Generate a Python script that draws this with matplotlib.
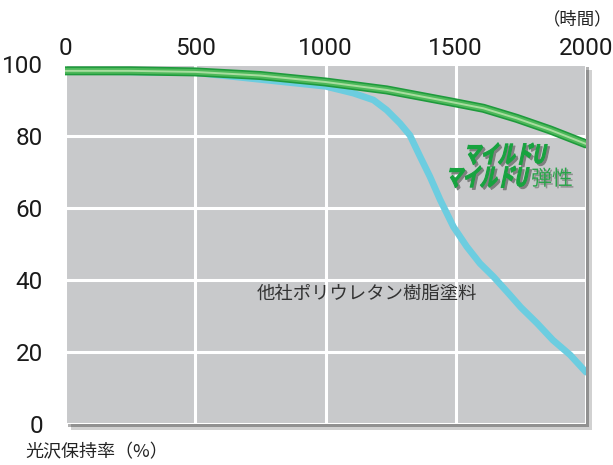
import matplotlib
matplotlib.use('Agg')
import matplotlib.pyplot as plt
import matplotlib.patheffects as pe
from matplotlib.colors import to_rgba
from matplotlib.transforms import Affine2D

plt.rcParams['font.family'] = ['Noto Sans CJK JP', 'DejaVu Sans']

# data
hours_mild = [0, 250, 500, 750, 1000, 1235, 1478, 1606, 1734, 1862, 2000]
gloss_mild = [98.1, 98.1, 97.8, 96.8, 95.0, 92.8, 89.5, 87.7, 84.9, 81.7, 77.8]

hours_other = [0, 500, 1000, 1107, 1184, 1235, 1286, 1324, 1363, 1401, 1440,
               1491, 1542, 1593, 1645, 1700, 1750, 1812, 1873, 1939, 2000]
gloss_other = [98.0, 97.6, 93.8, 91.9, 90.0, 87.2, 83.5, 80.2, 74.3, 68.7, 62.3,
               54.8, 49.3, 44.6, 40.9, 36.5, 32.4, 28.0, 23.3, 19.2, 14.4]

x_ticks = [0, 500, 1000, 1500, 2000]
y_ticks = [0, 20, 40, 60, 80, 100]


class SkewFill(pe.AbstractPathEffect):
    """fill text path sheared (fake italic) and stretched, optional offset/colour/stroke"""
    def __init__(self, skew=12, yscale=1.0, offset=(0, 0), color=None, stroke=0.0):
        super().__init__(offset)
        self.skew = skew
        self.yscale = yscale
        self.color = to_rgba(color) if color is not None else None
        self.stroke = stroke

    def draw_path(self, renderer, gc, tpath, affine, rgbFace=None):
        tr = (Affine2D().scale(1, self.yscale).skew_deg(self.skew, 0)
              + affine + self._offset_transform(renderer))
        face = self.color if self.color is not None else rgbFace
        gc0 = renderer.new_gc()
        gc0.copy_properties(gc)
        if self.stroke > 0:
            gc0.set_linewidth(self.stroke)
            gc0.set_foreground(face)
            gc0.set_joinstyle('round')
        renderer.draw_path(gc0, tpath, tr, face)
        gc0.restore()


fig = plt.figure(figsize=(6.13, 4.65), dpi=100)
ax = fig.add_axes([65 / 613, 1 - 424 / 465, 521 / 613, 360 / 465])

ax.set_facecolor('#c8c9cb')
ax.patch.set_path_effects([
    pe.SimplePatchShadow(offset=(4, -4), shadow_rgbFace='#000000', alpha=0.18),
    pe.SimplePatchShadow(offset=(2.5, -2.5), shadow_rgbFace='#000000', alpha=0.3),
    pe.Normal()])

ax.set_xlim(0, 2000)
ax.set_ylim(0, 100)
ax.set_xticks(x_ticks)
ax.set_yticks(y_ticks)
ax.xaxis.tick_top()
ax.tick_params(length=0, labelsize=17.5, colors='#1a1a1a')
ax.tick_params(axis='x', pad=3)
ax.tick_params(axis='y', pad=16)
for lab in ax.get_xticklabels() + ax.get_yticklabels():
    lab.set_fontfamily(['Roboto', 'DejaVu Sans'])
for s in ax.spines.values():
    s.set_visible(False)
ax.grid(True, color='white', linewidth=2.2)
ax.set_axisbelow(True)

# other polyurethane paint
ax.plot(hours_other, gloss_other, color='#6ccde0', linewidth=4.8,
        solid_capstyle='round', solid_joinstyle='round', zorder=3)

# mild-U: layered green to give a tube look
ax.plot(hours_mild, gloss_mild, color='#1e9a3c', linewidth=6.5,
        solid_capstyle='round', solid_joinstyle='round', zorder=4)
ax.plot(hours_mild, gloss_mild, color='#4db85a', linewidth=4.2,
        solid_capstyle='round', solid_joinstyle='round', zorder=5)
ax.plot(hours_mild, gloss_mild, color='#a8dd9f', linewidth=1.4,
        solid_capstyle='round', solid_joinstyle='round', zorder=6)

ax.text(1160, 36.1, '他社ポリウレタン樹脂塗料', fontsize=13.2, color='#333333',
        ha='center', va='center', zorder=7)

green = '#17a33f'
fx = [SkewFill(12, 1.45, (1.6, -1.6), '#7f7f7f', 0.8), SkewFill(12, 1.45, stroke=0.8)]
t1 = ax.text(1528, 72.5, 'マイルドU', fontsize=12.4, fontweight='bold', color=green,
             ha='left', va='baseline', zorder=8, path_effects=fx)
t2 = ax.text(1459, 66.1, 'マイルドU', fontsize=12.4, fontweight='bold', color=green,
             ha='left', va='baseline', zorder=8, path_effects=fx)
ax.annotate('弾性', xy=(1, 0), xycoords=t2, xytext=(3, 0), textcoords='offset points',
            fontsize=15, color='#2aa34a', ha='left', va='bottom', zorder=8,
            path_effects=[SkewFill(0, 1.0, (1.2, -1.2), '#8f8f8f'), SkewFill(0, 1.0)])

fig.text(612 / 613, 1 - 19 / 465, '（時間）', fontsize=12.5, color='#222222',
         ha='right', va='center')
fig.text(25 / 613, 1 - 452 / 465, '光沢保持率（%）', fontsize=13, color='#222222',
         ha='left', va='center')

fig.savefig('out.png', dpi=100)
